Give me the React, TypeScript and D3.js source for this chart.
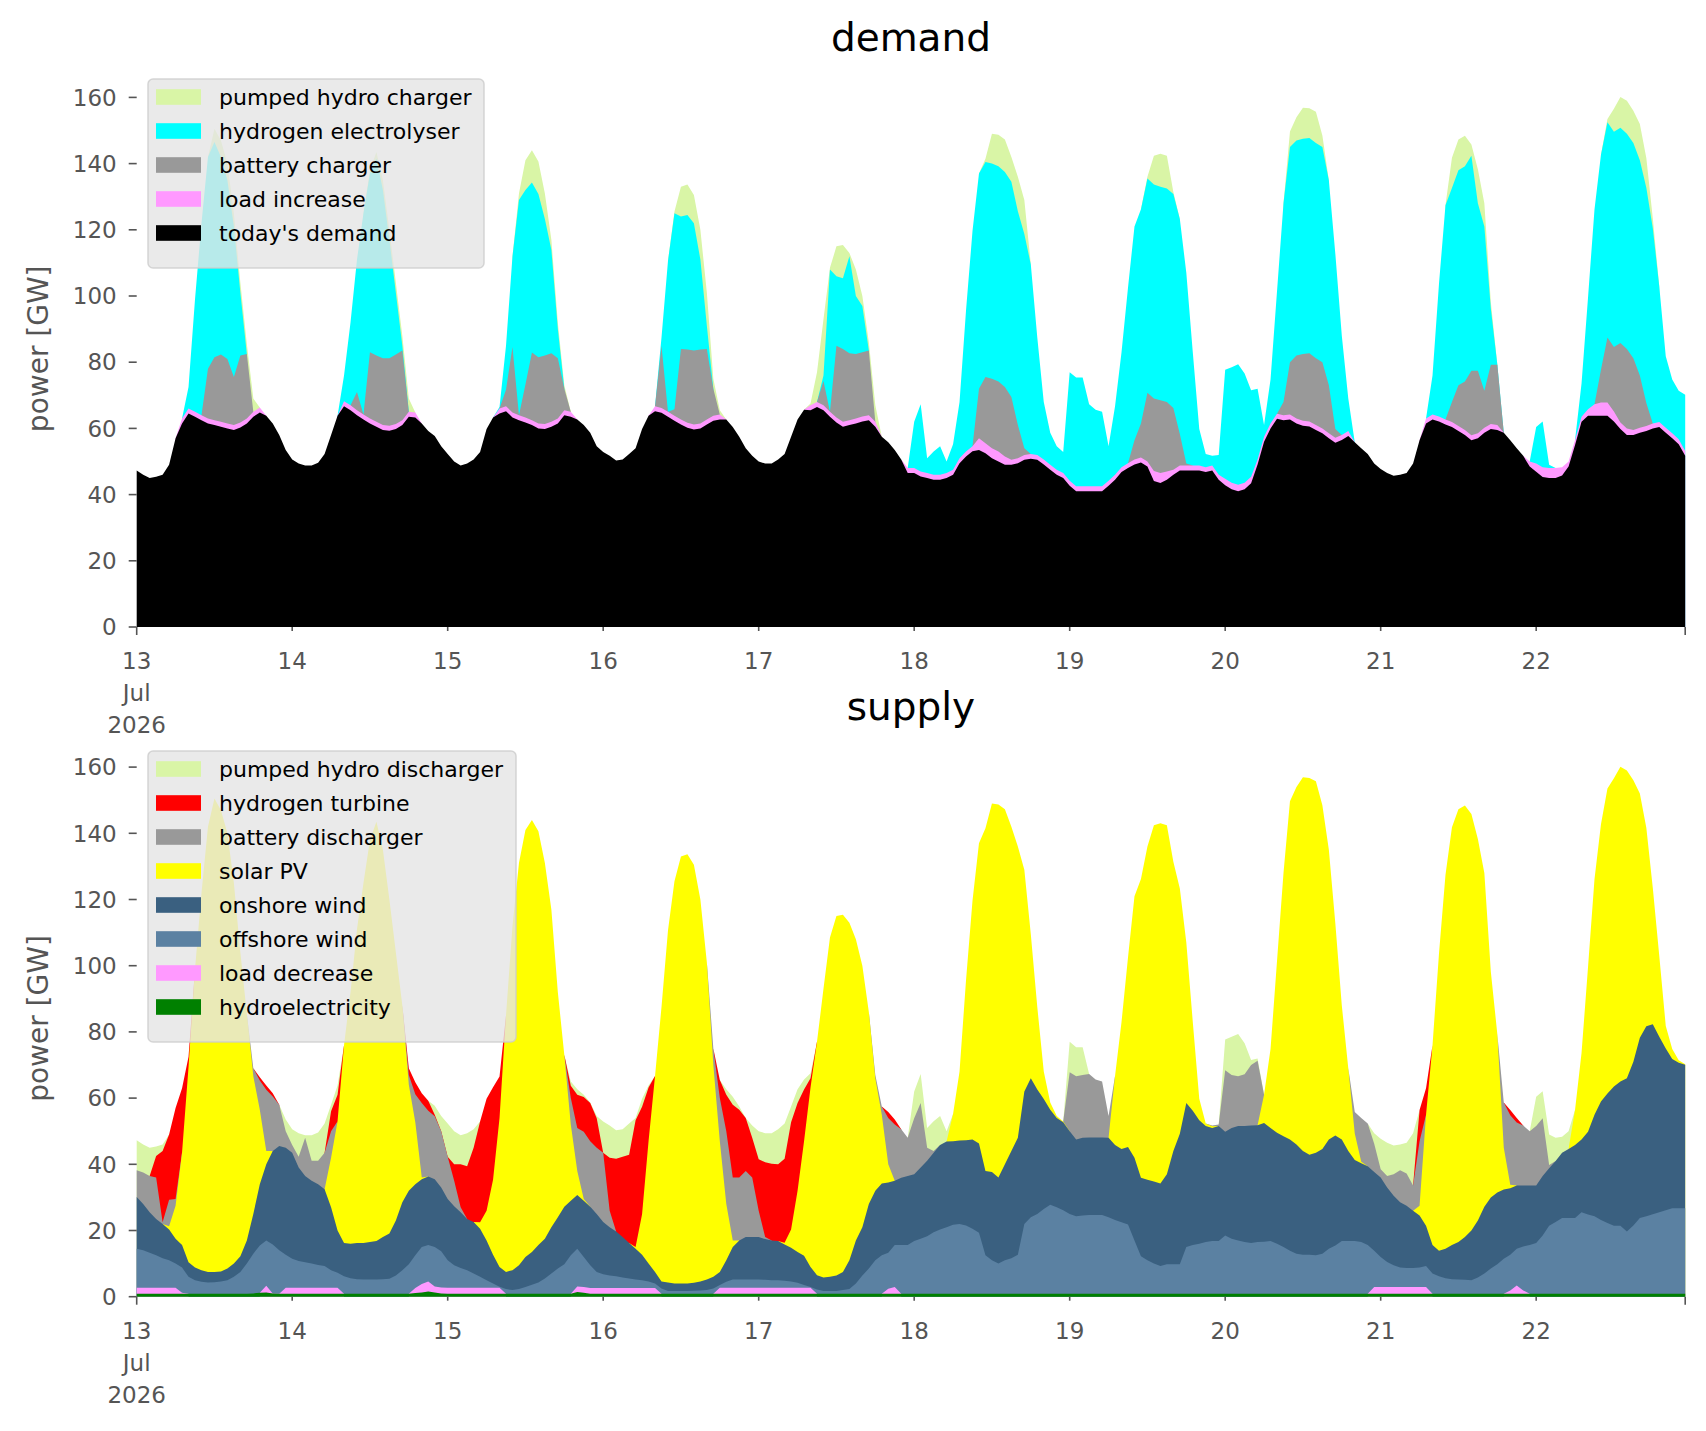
import React, { useEffect, useRef } from "react";
import * as d3 from "d3";

// hourly values in GW, 13 Jul 2026 00:00 .. 22 Jul 2026 23:00 (one row per day)

// ---- demand side ----
const todaysDemand: number[] = [
  47.3,46,45,45.4,46,49,57,61.5,64.5,63.5,62.5,61.5,61,60.5,60,59.5,60.3,61.5,63.5,64.8,63.8,61.5,58,53.5,
  50.6,49.4,48.8,48.8,49.6,52.3,58,63.8,66.7,65.5,64,62.7,61.5,60.5,59.5,59.3,59.8,61,63.5,63.3,61.5,59.2,57.7,54.6,
  52.3,50,48.8,49.4,50.6,52.9,59.8,63.3,64.5,65.2,63.3,62.5,61.8,61,60,59.8,60.5,61.5,64,63.5,62.7,61,58.7,54.6,
  52.9,51.7,50.3,50.6,52.3,54,59.8,63.8,65.2,64.7,63.5,62.3,61.2,60.2,59.7,60,61.2,62.3,62.7,62.7,60.4,57.5,54,51.7,
  50,49.4,49.4,50.6,52.3,57.5,62.7,65.6,65.5,66.5,65.5,63.5,61.8,60.5,61,61.5,62.1,62.5,60.5,57.5,55.8,53.5,50.6,46.5,
  46.5,45.5,45,44.5,44.5,45,46,49.5,51.5,53.1,53.5,52.5,51,50,49,49,49.5,50.5,50.8,50.5,49.1,47.5,46,45,
  42.7,41,41,41,41,41,42.7,44.5,46.8,48,49.1,49.7,48.5,44.1,43.5,44.5,46,47.3,47.3,47.3,47.3,46.8,47.3,44.5,
  42.8,41.6,41,41.6,43.4,49.1,56,60,62.9,62.5,62.7,61.5,60.8,60.6,59.5,58.5,57,55.7,56.5,57.7,55.8,54,52.3,49.4,
  47.7,46.5,45.7,46,46.5,49.4,56.4,61.5,62.7,62.1,61.2,60.4,59.2,58,56.4,57,58.7,59.8,59.5,58.7,56.4,54,51.7,48.5,
  46.9,45.3,45,45,45.8,48.5,55,62,63.8,63.8,63.8,63.8,62.1,59.8,58,58,58.7,59.2,60,60.4,58.7,57,55.2,51.7,
];

const loadIncrease: number[] = [
  0,0,0,0,0,0,0,1.5,1.5,1.5,1.5,1.5,1.5,1.5,1.5,1.5,1.5,1.5,1.5,1.5,0,0,0,0,
  0,0,0,0,0,0,0,0,1.5,1.5,1.5,1.5,1.5,1.5,1.5,1.5,1.5,1.5,1.5,1.5,0,0,0,0,
  0,0,0,0,0,0,0,0,1.5,1.5,1.5,1.5,1.5,1.5,1.5,1.5,1.5,1.5,1.5,1.5,0,0,0,0,
  0,0,0,0,0,0,0,0,1.5,1.5,1.5,1.5,1.5,1.5,1.5,1.5,1.5,1.5,1.5,0,0,0,0,0,
  0,0,0,0,0,0,0,0,1.5,1.5,1.5,1.5,1.5,1.5,1.5,1.5,1.5,1.5,1.5,0,0,0,0,1.5,
  1.5,1.5,1.5,1.5,1.5,1.5,1.5,1.5,1.5,1.5,3.5,3,3,3,2.5,1.5,1.5,1.5,1.5,1.5,1.5,1.5,1.5,1.5,
  1.5,1.5,1.5,1.5,1.5,1.5,1.5,1.5,1.5,1.5,1.5,1.5,1.5,3,3,2.5,1.5,1.5,1.5,1.5,1.5,1.5,1.5,1.5,
  2,2,2,2,2,1.5,1.5,1.5,1.5,1.5,1.5,1.5,1.5,1.5,1.5,1.5,1.5,1.5,1.5,1.5,0,0,0,0,
  0,0,0,0,0,0,0,1.5,1.5,1.5,1.5,1.5,1.5,1.5,1.5,1.5,1.5,1.5,1.5,0,0,0,0,1.5,
  2.5,3,3,3,2.5,1.5,1.5,1.5,2,3.5,4,4,3,2,2,1.5,1.5,1.5,1.5,1.5,1.5,1.5,1.5,1.5,
];

const batteryCharger: number[] = [
  0,0,0,0,0,0,0,0,0,0,0,15,19,20.3,19.5,14.5,20.2,19.5,0,0,0,0,0,0,
  0,0,0,0,0,0,0,0,0,0,5.5,0,20,20,20.2,20.4,21,21,0,0,0,0,0,0,
  0,0,0,0,0,0,0,0,0,5,19.8,0,10,20.4,20,20.7,20.7,18.2,6.5,0,0,0,0,0,
  0,0,0,0,0,0,0,0,0,18.8,0,2,21.3,22.1,22.3,22.3,21.3,8.2,0,0,0,0,0,0,
  0,0,0,0,0,0,0,0,0,0,7.3,0,21.7,22,20.2,19.5,19.4,19.5,0,0,0,0,0,0,
  0,0,0,0,0,0,0,0,0,0,15,20,21,21.2,21,19,10,2,0,0,0,0,0,0,
  0,0,0,0,0,0,0,0,0,0,5.8,10.3,20.8,21.9,22,21,18.7,9.5,0.6,0,0,0,0,0,
  0,0,0,0,0,0,0,0,0,4,15.8,19,20.2,20.6,20.2,20,14.5,2.6,0,0,0,0,0,0,
  0,0,0,0,0,0,0,0,0,0,0,6.1,12.3,14.7,19.5,18.9,11.2,17.9,18.2,0,0,0,0,0,
  0,0,0,0,0,0,0,0,0,0,9.9,19.7,19.5,24,24,21.7,15.8,7,0,0,0,0,0,0,
];

const electrolyser: number[] = [
  0,0,0,0,0,0,0,0,6.5,34,58,64,65,59.7,54,45.5,19,0,0,0,0,0,0,0,
  0,0,0,0,0,0,0,0,7.8,25,40,60.8,54,59.5,50.8,35.8,18.7,1.5,0,0,0,0,0,0,
  0,0,0,0,0,0,0,0,0.5,13.3,27.4,65,58.7,51.4,49.3,41.3,31.3,8.8,0,0,0,0,0,0,
  0,0,0,0,0,0,0,0,0,2.5,45.6,59.2,40,40.7,38.5,27.2,7,0,0,0,0,0,0,0,
  0,0,0,0,0,0,0,0,0,0,1.7,43,21,21.4,29.3,17.5,14,0,0,0,0,0,0,0,
  14,20.3,4.5,7,8.6,3.5,7.7,17,42.6,65,65,65,65,65,65,65,64.6,64.7,57.2,35.5,17.4,9.7,7.1,6.4,
  32.8,32.9,32.9,24.8,23.1,22.5,10.4,20.7,34.7,53,64.6,64.7,64.7,64.7,64.5,64.5,64.6,65,57.6,34.2,11,4,2.9,6,
  32.9,34.9,36.4,33,26.1,21.4,3.5,13.3,37,60,65,65,65,65,65,65,62,53,30,9.8,0,0,0,0,
  0,0,0,0,0,0,0,0,11.8,40.1,64.7,64.6,65,65,65,50.6,49.6,17,0.2,0,0,0,0,0,
  11,13.8,1,0,0,0,0,10.1,33.7,58.8,65,65,65,65,65,65,65,65,59,41,21.6,16.3,14.7,17,
];

const pumpedCharger: number[] = [
  0,0,0,0,0,0,0,0,0,0,0,0,4,5,5,4,3,3,4,0,0,0,0,0,
  0,0,0,0,0,0,0,0,0,0,0,0,1,2,3,3,3,3,4,0,0,0,0,0,
  0,0,0,0,0,0,0,0,0,0,0,2,9,9.7,9.8,7.7,3,2,1,0,0,0,0,0,
  0,0,0,0,0,0,0,0,0,0,0,0.5,9,9.2,8.5,9,10,3,1.3,0,0,0,0,0,
  0,0,0,0,0,0,0,0,0.5,9,17,0.5,9,10,1,8,3,2.5,5,0,0,0,0,0,
  0,0,0,0,0,0,0,0,0,0,0,1,9,9.5,9.8,7.5,10.4,10.3,0,0,0,0,0,0,
  0,0,0,0,0,0,0,0,0,0,0,0,0.5,8.7,10,9.9,0.6,0,0,0,0,0,0,0,
  0,0,0,0,0,0,0,0,0,0,4.7,7,9.4,9,9.5,3.5,0,0,0,0,0,0,0,0,
  0,0,0,0,0,0,0,0,0,0,0,9.2,9.3,9.2,3.4,10.3,7,2,0,0,0,0,0,0,
  0,0,0,0,0,0,0,0,0,0,0,1,7,9.3,10,9.8,11,9,3,0,0,0,0,0,
];

// ---- supply side ----
const hydroelectricity: number[] = [
  0.9,0.9,0.9,0.9,0.9,0.9,0.9,0.9,0.9,0.9,0.9,0.9,0.9,0.9,0.9,0.9,0.9,0.9,1,1.2,1.3,1,0.9,0.9,
  0.9,0.9,0.9,0.9,0.9,0.9,0.9,0.9,0.9,0.9,0.9,0.9,0.9,0.9,0.9,0.9,0.9,0.9,0.9,1.1,1.3,1.6,1.3,1,
  0.9,0.9,0.9,0.9,0.9,0.9,0.9,0.9,0.9,0.9,0.9,0.9,0.9,0.9,0.9,0.9,0.9,0.9,0.9,0.9,1.4,1.2,0.9,0.9,
  0.9,0.9,0.9,0.9,0.9,0.9,0.9,0.9,0.9,0.9,0.9,0.9,0.9,0.9,0.9,0.9,0.9,0.9,0.9,0.9,0.9,0.9,0.9,0.9,
  0.9,0.9,0.9,0.9,0.9,0.9,0.9,0.9,0.9,0.9,0.9,0.9,0.9,0.9,0.9,0.9,0.9,0.9,0.9,0.9,0.9,0.9,0.9,0.9,
  0.9,0.9,0.9,0.9,0.9,0.9,0.9,0.9,0.9,0.9,0.9,0.9,0.9,0.9,0.9,0.9,0.9,0.9,0.9,0.9,0.9,0.9,0.9,0.9,
  0.9,0.9,0.9,0.9,0.9,0.9,0.9,0.9,0.9,0.9,0.9,0.9,0.9,0.9,0.9,0.9,0.9,0.9,0.9,0.9,0.9,0.9,0.9,0.9,
  0.9,0.9,0.9,0.9,0.9,0.9,0.9,0.9,0.9,0.9,0.9,0.9,0.9,0.9,0.9,0.9,0.9,0.9,0.9,0.9,0.9,0.9,0.9,0.9,
  0.9,0.9,0.9,0.9,0.9,0.9,0.9,0.9,0.9,0.9,0.9,0.9,0.9,0.9,0.9,0.9,0.9,0.9,0.9,0.9,0.9,0.9,0.9,0.9,
  0.9,0.9,0.9,0.9,0.9,0.9,0.9,0.9,0.9,0.9,0.9,0.9,0.9,0.9,0.9,0.9,0.9,0.9,0.9,0.9,0.9,0.9,0.9,0.9,
];

const loadDecrease: number[] = [
  1.8,1.8,1.8,1.8,1.8,1.8,1.8,0.3,0,0,0,0,0,0,0,0,0,0,0,0,2,0,0,1.8,
  1.8,1.8,1.8,1.8,1.8,1.8,1.8,1.8,0,0,0,0,0,0,0,0,0,0,0,1.5,2.5,3,1.8,1.8,
  1.8,1.8,1.8,1.8,1.8,1.8,1.8,1.8,1.8,0,0,0,0,0,0,0,0,0,0,0,1.7,1.7,1.7,1.7,
  1.7,1.7,1.7,1.7,1.7,1.7,1.7,1.7,1.7,0,0,0,0,0,0,0,0,0,1.8,1.8,1.8,1.8,1.8,1.8,
  1.8,1.8,1.8,1.8,1.8,1.8,1.8,1.8,1.8,0,0,0,0,0,0,0,0,0,0,0,1.5,2,0,0,
  0,0,0,0,0,0,0,0,0,0,0,0,0,0,0,0,0,0,0,0,0,0,0,0,
  0,0,0,0,0,0,0,0,0,0,0,0,0,0,0,0,0,0,0,0,0,0,0,0,
  0,0,0,0,0,0,0,0,0,0,0,0,0,0,0,0,0,0,0,0,0,0,0,2,
  2,2,2,2,2,2,2,2,0,0,0,0,0,0,0,0,0,0,0,0,1,2.5,1,0,
  0,0,0,0,0,0,0,0,0,0,0,0,0,0,0,0,0,0,0,0,0,0,0,0,
];

const offshoreWind: number[] = [
  11.8,11.3,10.6,9.8,8.9,8.3,7.3,7.6,5.1,4.1,3.6,3.4,3.5,3.7,4.1,5.1,6.6,9.1,12,14.3,13.7,14.8,13.1,10,
  8.8,8.1,7.7,7.3,6.9,6.6,5.3,4.5,5.3,4.7,4.4,4.3,4.3,4.3,4.4,4.5,5.5,7.1,8.9,9.9,11.2,11,11.9,10.9,
  8.3,6.8,6,5.3,4.3,3.3,2.3,1.3,0.3,1.4,1.1,1.4,2,2.7,3.4,4.6,6.1,7.6,8.9,11.6,11.4,9.1,6.9,4.9,
  4.2,3.8,3.6,3.2,2.9,2.6,2.4,2,1.4,1.6,0.8,0.8,0.8,0.8,0.9,1,1.1,1.6,0.8,1.8,2.5,2.5,2.5,2.5,
  2.5,2.4,2.3,2.3,2.1,1.9,1.5,0.8,0.2,1.3,0.8,0.8,0.8,1.1,1.4,3.1,5.5,7.6,10.1,11.6,10.9,12.7,14.7,14.7,
  15.9,16.6,17.4,18.6,19.4,20.1,20.8,21.1,20.6,19.6,18.4,11.6,10.1,9.1,10.1,10.7,11.8,21.1,23.1,24.1,25.6,26.9,26.1,25.2,
  24.1,23.4,23.6,23.8,23.8,23.8,23.1,22.3,21.6,20.9,16.1,11.3,10.1,9.1,8.4,8.9,8.9,8.9,14.1,14.7,15.1,15.6,15.9,15.9,
  17.6,16.6,16.1,15.6,15.3,15.6,15.7,15.9,15.1,14.1,13,12.1,11.8,11.8,11.6,12.1,13.6,14.6,15.9,15.9,15.9,15.6,14.7,11,
  9.1,7.6,6.6,5.9,5.8,5.8,5.9,6.4,6.1,5.3,4.7,4.4,4.3,4.2,4.1,4.9,6.1,7.6,8.9,10.6,10.8,11.1,13.3,14.7,
  15.3,17.6,20.5,21.7,22.9,22.9,22.9,24.6,23.9,23.4,22.3,21.4,20.5,20.5,18.8,20.6,22.9,23.4,24,24.6,25.2,25.8,25.8,25.8,
];

const onshoreWind: number[] = [
  15.6,14,12.2,11,10.4,9.3,7.5,6.8,4.4,3.8,3.5,3.2,3.1,3,3.5,4,4.7,7,12,18.5,23,28.2,31.5,32.3,
  32,28.2,26.1,25,24.4,23.2,19,12.8,10,10.4,10.9,11,11.3,11.6,12.7,13.7,16.6,20.5,22.2,21.5,20.5,20.7,20.5,19.3,
  18.5,17.8,16.8,15.5,15.6,14.5,12,8.7,6,5.2,6,7.2,9.1,9.9,11.3,12,14,15.5,17.4,16.5,16.2,17,17.7,17.5,
  15.8,14.6,13.5,12.2,10.7,9.3,7.7,5.4,3.5,2.1,2.6,2.3,2.3,2.3,2.4,2.7,3.2,3.5,4,6.5,9.8,11.8,12.8,12.8,
  12.8,12.3,12,11.8,11,10.2,9.3,8.9,6.1,4.3,4.1,4.3,4.7,5.5,8.7,13,14.6,19.5,21,21.7,21.2,19.4,20.3,20.9,
  20.2,21.5,22.8,24,25.5,25.9,25.3,25.2,25.8,27,27,25.5,26.7,26,29,32.4,35.3,40,42,37.6,33.2,28.7,27,26.6,
  25,23.2,23.5,23.4,23.4,23.4,24,22.6,22.1,23.4,25,23.7,24.3,24.8,24.9,27.2,34.2,39.4,43.5,40.6,37.3,35.1,34.2,34.8,
  31.3,33.5,34.6,35.1,35.5,35.3,35.9,34.2,33.5,33.5,33.6,33,31.3,30.2,31,31.6,33,33.2,30.7,27.2,24.5,23.8,23.8,23.8,
  24,22.5,21,19.7,18.8,17.3,15.7,12.1,8.6,7.7,8.9,10.3,11.3,12.9,15,17.2,20.2,21.5,21.7,20.9,20.1,19.1,18.4,18,
  17.4,18,17.4,18.4,19.7,20.8,22,22,25,30.7,35.8,39.1,42.1,43.6,46.3,49.5,54.4,57.4,57.4,53,48.9,45.1,44,43.4,
];

const solarPV: number[] = [
  0,0,0,0,0,1,10,28,59,90.2,114,134.5,143,139.4,131.5,115,91.8,68.5,41.6,22.5,4,0,0,0,
  0,0,0,0,0,0,15,33,59.8,76,94.8,108.8,121.5,126.7,117,100.9,81,59.5,32,18.7,0.5,0,0,0,
  0,0,0,0,0,2,9,22.6,45,77.5,104,121.5,129,130.5,125,113.5,96,68,45.8,23,7.3,0.5,0,0,
  0,0,0,0,0,0.5,12.2,37,59.2,82.9,106.3,121.5,129,129.7,126.3,115.4,95.8,64,39.5,17,2,0,0,0,
  0,0,0,0,0.5,5.5,18.5,34.6,54.2,70.5,87.2,102.5,108.6,107.9,102,91,79,58,34,20.8,5.5,0,0,0,
  0,0,0,0,0,0,8.2,20.8,48.3,72.1,90.7,103.5,111.3,112.7,107.3,98,88,67,43.5,24.9,8.3,2.2,0.6,0.2,
  0,0,0,0,0,0,0,20.9,38.4,57.3,79,90.3,100.7,107.6,108.8,105.4,87.4,74.1,48.5,26.8,6.5,0.7,0.5,0,
  0,0,0,0,0,0,8.5,23.8,51.9,79.5,102.2,108,112.9,113.8,112.2,103.9,87.5,64.1,40.5,25,8,0.5,0,0,
  0,0,0,0,0,0,3,33.6,60.4,89.8,112.9,126.2,130.8,130.4,125.8,115.3,100.8,68.2,47.9,12.6,1,0,0,0,
  0,0,0,0,0,0,10.7,26.1,49.7,71.1,83.7,92.1,93.1,95.1,93,85,73.8,60,41.2,24.4,6.8,3,0.7,0.1,
];

const batteryDischarger: number[] = [
  8.1,9.5,11,12.5,0.5,8,2,0,0,0,0,0,0,0,0,0,0,0,2.4,8.8,18.5,16.5,12.5,5,
  2.3,3.3,11.5,6.1,7.1,11,8,0,0,0,0,0,0,0,0,0,0,0,3,8.5,22.5,19.9,19,17,
  12.8,7.7,1.5,0,0,0,0,0,0,0,0,0,0,0,0,0,0,0,0,8,13,20.3,19.8,20,
  20.9,5,0,0,0,0,0,0,0,0,0,0,0,0,0,0,0,5,13,22,19,19,20,18,
  8,0.6,0,0,0,0,0,0,0,0,0,0,0,0,0,0,0,0,1,2.5,14,17,14.7,11.5,
  16.9,19.5,3.9,0.5,0,0,0,0,0,0,0,0,0,0,0,0,0,0,0,0,0,0,0,0,
  17.8,19.1,19,19.2,17.5,16.9,6.6,0,0,0,0,0,0,0,0,0,0,0,0,0,0,0,0.2,0.4,
  18.6,16,15,15.6,18.3,19.5,0,0,0,0,0,0,0,0,0,0,0,0,0,0,6.5,13.2,12.9,8.5,
  2.5,3.5,6.5,9.7,9.7,7.6,19.5,0,0,0,0,0,0,0,0,0,0,0,0,13.7,21,19,18.1,16.4,
  18,17.4,1,0,0,0,0,0,0,0,0,0,0,0,0,0,0,0,0,0,0,0,0,0,
];

const hydrogenTurbine: number[] = [
  0,0,0,6.5,21.5,19.7,27.5,19.4,3.1,0,0,0,0,0,0,0,0,0,0,1,1.3,1,0,0,
  0,0,0,0,0,0,6,8,0,0,0,0,0,0,0,0,0,0,2,3.6,3,3,0.5,0,
  0,5,13,15.9,22.4,30.4,33.8,28,12.5,0,0,0,0,0,0,0,0,0,0,3.7,10,10.5,11.5,8.9,
  0,16,22,24.3,26.7,38.3,32.5,16.2,0,0,0,0,0,0,0,0,0,0,5.5,11,22,20.5,16,12,
  15.5,22.6,23.2,23.2,25.4,32.4,26.5,15.6,2.8,0,0,0,0,0,0,0,0,0,0,0,1.8,1.5,0,0,
  0,0,0,0,0,0,0,0,0,0,0,0,0,0,0,0,0,0,0,0,0,0,0,0,
  0,0,0,0,0,0,0,0,0,0,0,0,0,0,0,0,0,0,0,0,0,0,0,0,
  0,0,0,0,0,0,0,0,0,0,0,0,0,0,0,0,0,0,0,0,0,0,0,0,
  0,0,0,0,0,0,9.4,8,0,0,0,0,0,0,0,0,0,0,0,0,1.6,1.4,0,0,
  0,0,0,0,0,0,0,0,0,0,0,0,0,0,0,0,0,0,0,0,0,0,0,0,
];

const pumpedDischarger: number[] = [
  9.1,8.5,8.5,2.9,2,0,0,0,0,0,0,0,0,0,0,0,0,0,0,0,0,0,0,3.5,
  4.8,7.1,0.8,7.7,8.5,8.8,2,2.8,0,0,0,0,0,0,0,0,0,0,0,0,0,0,2.7,4.6,
  10,10,8.8,10,5.6,0,0,0,0,0,0,0,0,0,0,0,0,0,0,1.3,1.7,0.7,0.2,0.7,
  9.4,9.7,8.6,8.3,9.4,0.7,2.4,0.6,0,0,0,0,0,0,0,0,0,0,0,1.7,2.4,1,0,3.7,
  8.5,8.8,9.2,10.6,10.6,4.8,4.2,3,1.5,0,0,0,0,0,0,0,0,0,0,0,0,0,0,0,
  8.1,8.8,6,9,8.8,3.1,0,0,0,0,0,0,0,0,0,0,0,0,0,0,0,0,0,0,
  9.2,8.8,8.4,0,0,0,0,0,0,0,0,0,0,0,0,0,0,0,0,0,0,0,0,0,
  9.3,11.5,12.8,9.4,1.5,0.7,0,0,0,0,0,0,0,0,0,0,0,0,0,0,0,0,0,3.2,
  9.2,10,8.7,7.8,9.3,15.8,0,0,0,0,0,0,0,0,0,0,0,0,0,0,0,0,0,0,
  8.8,8.2,9.2,7,4.8,5.4,0,0,0,0,0,0,0,0,0,0,0,0,0,0,0,0,0,0,
];

const demandKeys = ["today's demand", "load increase", "battery charger", "hydrogen electrolyser", "pumped hydro charger"];
const demandColors = ["#000000", "#ff99ff", "#999999", "#00ffff", "#d9f5a6"];
const supplyKeys = ["hydroelectricity", "load decrease", "offshore wind", "onshore wind", "solar PV",
  "battery discharger", "hydrogen turbine", "pumped hydro discharger"];
const supplyColors = ["#008000", "#ff99ff", "#5b81a2", "#3a6080", "#ffff00", "#999999", "#ff0000", "#d9f5a6"];

const startTime = Date.UTC(2026, 6, 13);
const X0 = 136.7;
const X1 = 1685.2;
const PX_PER_GW = 3.31;
const FONT = "DejaVu Sans, sans-serif";
const GREY = "#555555";

type Panel = {
  title: string;
  bottom: number;
  keys: string[];
  colors: string[];
  series: number[][];
  legendTop: number;
  legendWidth: number;
};

function drawPanel(svg: d3.Selection<SVGSVGElement, unknown, null, undefined>, p: Panel) {
  const n = p.series[0].length;
  const times = d3.range(n).map(i => new Date(startTime + i * 3600 * 1000));
  const rows = times.map((_, i) => {
    const r: Record<string, number> = {};
    p.keys.forEach((k, j) => (r[k] = p.series[j][i]));
    return r;
  });
  const stacked = d3.stack<Record<string, number>>().keys(p.keys)(rows);
  const ymax = (d3.max(stacked[stacked.length - 1], d => d[1]) ?? 0) * 1.05;

  const x = d3.scaleUtc().domain([times[0], times[n - 1]]).range([X0, X1]);
  const y = d3.scaleLinear().domain([0, ymax]).range([p.bottom, p.bottom - ymax * PX_PER_GW]);

  const g = svg.append("g");

  // paint each layer from zero up to its top, topmost layer first
  for (let k = p.keys.length - 1; k >= 0; k--) {
    const s = p.series[k];
    const on = (i: number) =>
      k === 0 || s[i] > 0 || (i > 0 && s[i - 1] > 0) || (i < n - 1 && s[i + 1] > 0);
    const area = d3.area<d3.SeriesPoint<Record<string, number>>>()
      .defined((_, i) => on(i))
      .x((_, i) => x(times[i]))
      .y0(y(0))
      .y1(d => y(d[1]));
    g.append("path").datum(stacked[k]).attr("d", area).attr("fill", p.colors[k]);
  }

  // y axis
  y.ticks(8).forEach(v => {
    g.append("line")
      .attr("x1", X0 - 8).attr("x2", X0)
      .attr("y1", y(v)).attr("y2", y(v))
      .attr("stroke", GREY).attr("stroke-width", 1.6);
    g.append("text")
      .attr("x", X0 - 20).attr("y", y(v)).attr("dy", "0.36em")
      .attr("text-anchor", "end")
      .attr("font-family", FONT).attr("font-size", 23).attr("fill", GREY)
      .text(v);
  });

  // x axis: day ticks (short), first and last tick long
  const days = d3.utcDay.range(times[0], times[n - 1]);
  days.forEach((d, i) => {
    const xx = x(d);
    g.append("line")
      .attr("x1", xx).attr("x2", xx)
      .attr("y1", p.bottom).attr("y2", p.bottom + (i === 0 ? 8 : 4))
      .attr("stroke", GREY).attr("stroke-width", 1.6);
    const lines = i === 0 ? [String(d.getUTCDate()), "Jul", "2026"] : [String(d.getUTCDate())];
    lines.forEach((t, li) => {
      g.append("text")
        .attr("x", xx).attr("y", p.bottom + 42 + li * 32)
        .attr("text-anchor", "middle")
        .attr("font-family", FONT).attr("font-size", 23).attr("fill", GREY)
        .text(t);
    });
  });
  g.append("line")
    .attr("x1", x(times[n - 1])).attr("x2", x(times[n - 1]))
    .attr("y1", p.bottom).attr("y2", p.bottom + 8)
    .attr("stroke", GREY).attr("stroke-width", 1.6);

  // y label
  const midY = (y(0) + y(ymax)) / 2;
  g.append("text")
    .attr("transform", `translate(38,${midY}) rotate(-90)`)
    .attr("dy", "0.36em")
    .attr("text-anchor", "middle")
    .attr("font-family", FONT).attr("font-size", 28).attr("fill", GREY)
    .text("power [GW]");

  // title
  g.append("text")
    .attr("x", (X0 + X1) / 2).attr("y", y(ymax) - 20)
    .attr("text-anchor", "middle")
    .attr("font-family", FONT).attr("font-size", 39).attr("fill", "#000")
    .text(p.title);

  // legend, top of the stack first
  const items = p.keys.map((k, i) => ({ k, c: p.colors[i] })).reverse();
  const rowH = 34;
  const lh = 19 + items.length * rowH - 34 + 22;
  const lg = g.append("g");
  lg.append("rect")
    .attr("x", 148).attr("y", p.legendTop)
    .attr("width", p.legendWidth).attr("height", lh + 12)
    .attr("rx", 5)
    .attr("fill", "#e5e5e5").attr("fill-opacity", 0.8)
    .attr("stroke", "#cccccc").attr("stroke-opacity", 0.8).attr("stroke-width", 1.5);
  items.forEach((it, i) => {
    const cy = p.legendTop + 18 + i * rowH;
    lg.append("rect")
      .attr("x", 156).attr("y", cy - 7.8)
      .attr("width", 45).attr("height", 15.6)
      .attr("fill", it.c);
    lg.append("text")
      .attr("x", 219).attr("y", cy).attr("dy", "0.36em")
      .attr("font-family", FONT).attr("font-size", 22).attr("fill", "#000")
      .text(it.k);
  });
}

const App: React.FC = () => {
  const svgRef = useRef<SVGSVGElement>(null);

  useEffect(() => {
    if (!svgRef.current) return;
    const svg = d3.select(svgRef.current);
    svg.selectAll("*").remove();

    drawPanel(svg, {
      title: "demand",
      bottom: 627,
      keys: demandKeys,
      colors: demandColors,
      series: [todaysDemand, loadIncrease, batteryCharger, electrolyser, pumpedCharger],
      legendTop: 79,
      legendWidth: 336,
    });

    drawPanel(svg, {
      title: "supply",
      bottom: 1296.7,
      keys: supplyKeys,
      colors: supplyColors,
      series: [hydroelectricity, loadDecrease, offshoreWind, onshoreWind, solarPV,
        batteryDischarger, hydrogenTurbine, pumpedDischarger],
      legendTop: 751,
      legendWidth: 368,
    });
  }, []);

  return (
    <svg
      ref={svgRef}
      width={1706}
      height={1431}
      style={{ position: "absolute", left: 0, top: 0, background: "#ffffff" }}
    />
  );
};

export default App;
